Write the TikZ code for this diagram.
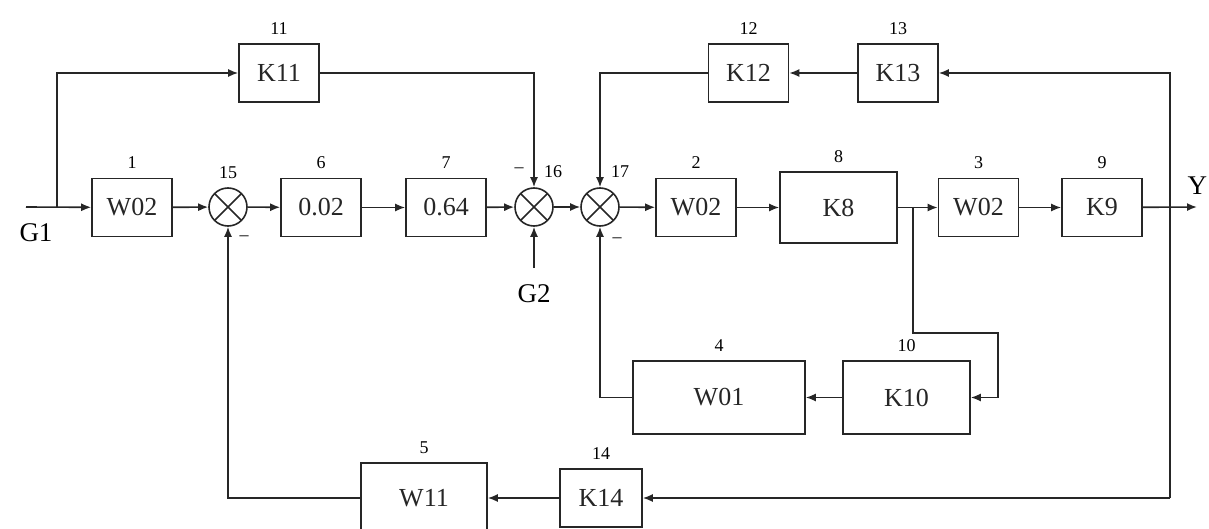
\documentclass[tikz,border=0pt]{standalone}
\usepackage{fontspec}
\setmainfont{Liberation Serif}
\usetikzlibrary{arrows.meta}
\begin{document}
\begin{tikzpicture}[x=0.5pt,y=-0.5pt,line width=0.8pt,color=black!85,line join=miter,
    blk/.style={draw,minimum width=40pt,minimum height=29pt,inner sep=0pt,font=\fontsize{13}{15}\selectfont},
    sumpt/.style={draw,circle,minimum size=19pt,inner sep=0pt,
      path picture={\draw (path picture bounding box.north west) -- (path picture bounding box.south east)
        (path picture bounding box.north east) -- (path picture bounding box.south west);}},
    num/.style={font=\fontsize{9}{11}\selectfont,inner sep=1pt,text=black},
    lab/.style={label={[num,label distance=3pt]above:#1}},
    sig/.style={font=\fontsize{13.5}{16}\selectfont,inner sep=0pt,text=black},
    arr/.style={-{Latex[length=5pt,width=4pt]}}]
  \useasboundingbox (0,0) rectangle (1209,529);
  % main line
  \node[blk,lab=1] (b1) at (132,207.5) {W02};
  \node[sumpt,lab=15] (s15) at (228,207) {};
  \node[blk,lab=6] (b6) at (321,207.5) {0.02};
  \node[blk,lab=7] (b7) at (446,207.5) {0.64};
  \node[sumpt] (s16) at (534,207) {};
  \node[sumpt] (s17) at (600,207) {};
  \node[blk,lab=2] (b2) at (696,207.5) {W02};
  \node[blk,lab=8,minimum width=58.5pt,minimum height=35.5pt] (b8) at (838.5,207.5) {K8};
  \node[blk,lab=3] (b3) at (978.5,207.5) {W02};
  \node[blk,lab=9] (b9) at (1102,207.5) {K9};
  % upper blocks
  \node[blk,lab=11] (b11) at (279,73) {K11};
  \node[blk,lab=12] (b12) at (748.5,73) {K12};
  \node[blk,lab=13] (b13) at (898,73) {K13};
  % lower blocks
  \node[blk,lab=4,minimum width=86pt,minimum height=36.5pt] (b4) at (719,397.5) {W01};
  \node[blk,lab=10,minimum width=63.5pt,minimum height=36.5pt] (b10) at (906.5,397.5) {K10};
  \node[blk,lab=14,minimum width=41pt] (b14) at (601,498) {K14};
  \node[blk,lab=5,minimum width=63pt,minimum height=35pt] (b5) at (424,498) {W11};
  % sum marks
  \node[num] (m15) at ([shift={(16,31)}]s15) {–};
  \node[num] (m16) at ([shift={(-15,-37)}]s16) {–};
  \node[num] (l16) at ([shift={(19,-35)}]s16) {16};
  \node[num] (l17) at ([shift={(20,-35)}]s17) {17};
  \node[num] (m17) at ([shift={(17,33)}]s17) {–};
  % inputs and output
  \coordinate (g1) at (26,207);
  \coordinate (br1) at (57,207);
  \node[sig] (tg1) at (36,233) {G1};
  \coordinate (g2) at (534,268);
  \node[sig] (tg2) at (534,294) {G2};
  \coordinate (yout) at (1197,207);
  \node[sig,anchor=east] (ty) at (1208,186) {Y};
  \coordinate (br8) at (913,207);
  \coordinate (c10) at (998,333);
  \coordinate (c14) at (1170,498);
  \draw[arr] (g1) -- (b1);
  \draw[arr] (br1) |- (b11);
  \draw[arr] (b11) -| (s16);
  \draw[arr] (b1) -- (s15);
  \draw[arr] (s15) -- (b6);
  \draw[arr] (b6) -- (b7);
  \draw[arr] (b7) -- (s16);
  \draw[arr] (g2) -- (s16);
  \draw[arr] (s16) -- (s17);
  \draw[arr] (s17) -- (b2);
  \draw[arr] (b2) -- (b8);
  \draw[arr] (b8) -- (b3);
  \draw[arr] (b3) -- (b9);
  \draw[arr] (b9) -- (yout);
  % feedback paths
  \draw[arr] (c14) |- (b13);
  \draw[arr] (b13) -- (b12);
  \draw[arr] (b12) -| (s17);
  \draw[arr] (br8) |- (c10) |- (b10);
  \draw[arr] (b10) -- (b4);
  \draw[arr] (b4) -| (s17);
  \draw[arr] (c14) -- (b14);
  \draw[arr] (b14) -- (b5);
  \draw[arr] (b5) -| (s15);
\end{tikzpicture}
\end{document}
